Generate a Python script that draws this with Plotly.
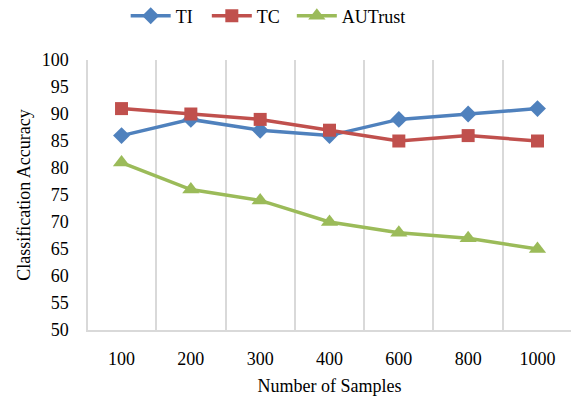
import plotly.graph_objects as go

samples = ["100", "200", "300", "400", "600", "800", "1000"]
ti = [86, 89, 87, 86, 89, 90, 91]
tc = [91, 90, 89, 87, 85, 86, 85]
autrust = [81, 76, 74, 70, 68, 67, 65]

font = "Liberation Serif, Times New Roman, serif"
fig = go.Figure()
fig.add_trace(go.Scatter(x=samples, y=ti, name="TI", mode="lines+markers", legend="legend",
                         line=dict(color="#4F81BD", width=3.5),
                         marker=dict(symbol="diamond", size=13, color="#4F81BD")))
fig.add_trace(go.Scatter(x=samples, y=tc, name="TC", mode="lines+markers", legend="legend2",
                         line=dict(color="#C0504D", width=3.5),
                         marker=dict(symbol="square", size=13, color="#C0504D")))
fig.add_trace(go.Scatter(x=samples, y=autrust, name="AUTrust", mode="lines+markers", legend="legend3",
                         line=dict(color="#9BBB59", width=3.5),
                         marker=dict(symbol="triangle-up", size=15, color="#9BBB59")))

leg = dict(orientation="h", xanchor="left", y=1.163, yanchor="middle",
           font=dict(size=18), itemwidth=40, bgcolor="rgba(0,0,0,0)")

fig.update_layout(
    width=571, height=396,
    margin=dict(l=88, r=0, t=60, b=66, autoexpand=False),
    paper_bgcolor="white", plot_bgcolor="white",
    font=dict(family=font, size=18, color="#000000"),
    showlegend=True,
    legend=dict(x=0.078, **leg),
    legend2=dict(x=0.246, **leg),
    legend3=dict(x=0.422, **leg),
    xaxis=dict(type="category", tickson="boundaries", showgrid=True,
               gridcolor="#D9D9D9", gridwidth=1.5, showline=True,
               linecolor="#D9D9D9", linewidth=1.5, ticks="", ticklabelstandoff=12,
               title=dict(text="Number of Samples", font=dict(size=18), standoff=14),
               tickfont=dict(size=18)),
    yaxis=dict(range=[50, 100], dtick=5, showgrid=False, zeroline=False,
               showline=True, linecolor="#D9D9D9", linewidth=1.5,
               ticks="", ticklabelstandoff=14,
               title=dict(text="Classification Accuracy", font=dict(size=18), standoff=6),
               tickfont=dict(size=18)),
)
fig.write_html("out.html", config={"displayModeBar": False},
               post_script="document.body.style.margin='0';")
